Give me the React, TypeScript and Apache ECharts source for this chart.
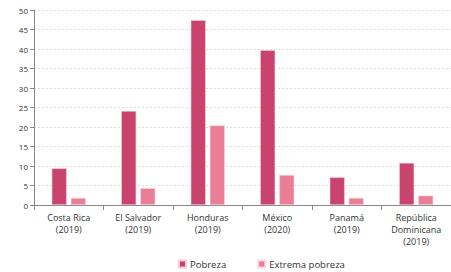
import React, { useEffect, useRef } from "react";
import * as echarts from "echarts";

const categories = [
  "Costa Rica\n(2019)",
  "El Salvador\n(2019)",
  "Honduras\n(2019)",
  "México\n(2020)",
  "Panamá\n(2019)",
  "República\nDominicana\n(2019)",
];
const pobreza = [9.4, 24.1, 47.4, 39.7, 7.1, 10.8];
const extrema = [1.8, 4.3, 20.4, 7.7, 1.8, 2.4];
const seriesNames = ["Pobreza", "Extrema pobreza"];

export default function App() {
  const ref = useRef<HTMLDivElement>(null);
  useEffect(() => {
    const chart = echarts.init(ref.current!, null, { renderer: "svg" });
    const font = "'Open Sans', sans-serif";
    chart.setOption({
      animation: false,
      textStyle: { fontFamily: font },
      grid: { left: 34, right: -9, top: 10, bottom: 67, containLabel: false },
      legend: {
        data: seriesNames,
        top: 254,
        left: 173,
        itemWidth: 7,
        itemHeight: 7,
        itemGap: 31,
        icon: "rect",
        textStyle: { fontFamily: font, fontSize: 9.5, color: "#333", padding: [0, 0, 0, -1] },
      },
      xAxis: {
        type: "category",
        data: categories,
        axisLine: { lineStyle: { color: "#888" } },
        axisTick: { show: true, length: 5, lineStyle: { color: "#888" } },
        axisLabel: { fontFamily: font, fontSize: 9, color: "#333", lineHeight: 12, margin: 6, interval: 0 },
      },
      yAxis: {
        type: "value",
        min: 0,
        max: 50,
        interval: 5,
        axisLine: { show: true, lineStyle: { color: "#888" } },
        axisTick: { show: true, length: 4, lineStyle: { color: "#888" } },
        axisLabel: { fontFamily: font, fontSize: 8, color: "#333", margin: 6 },
        splitLine: { lineStyle: { type: [2, 2], color: "#ddd" } },
      },
      series: [
        {
          name: seriesNames[0],
          type: "bar",
          data: pobreza,
          barWidth: 15,
          barGap: "27%",
          itemStyle: { color: "#c8436e", borderColor: "#f3c7d3", borderWidth: 0.6 },
        },
        {
          name: seriesNames[1],
          type: "bar",
          data: extrema,
          barWidth: 15,
          itemStyle: { color: "#e97f96", borderColor: "#f8d3dc", borderWidth: 0.6 },
        },
      ],
    });
    return () => chart.dispose();
  }, []);
  return <div ref={ref} style={{ width: 451, height: 272, position: "absolute", left: 0, top: 0 }} />;
}
